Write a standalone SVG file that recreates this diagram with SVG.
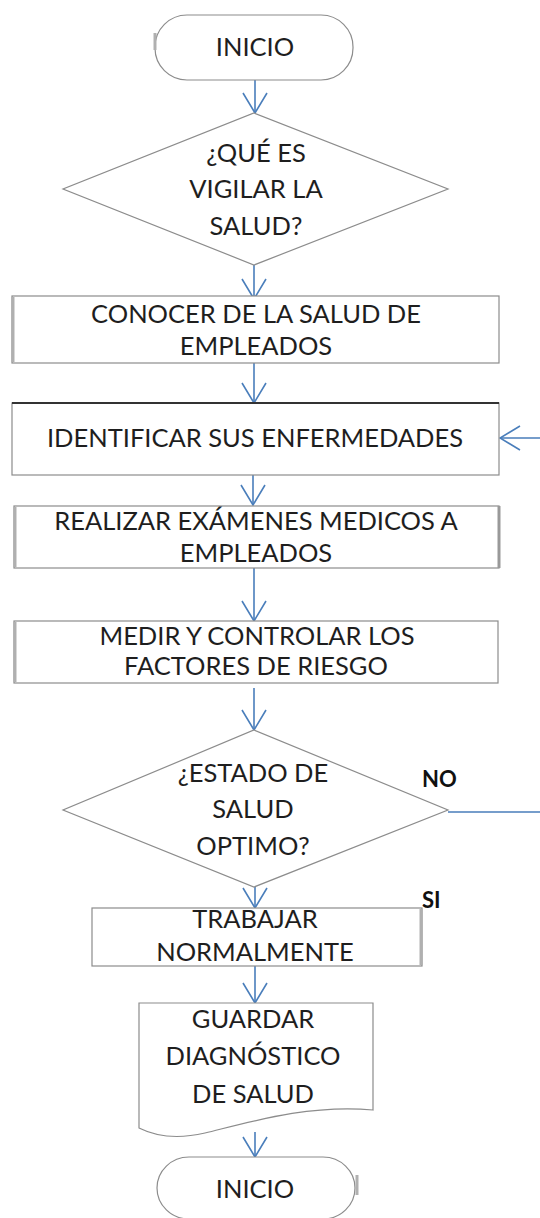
<svg xmlns="http://www.w3.org/2000/svg" width="540" height="1218" viewBox="0 0 540 1218">
<style>
.shape{fill:#ffffff;stroke:#8c8c8c;stroke-width:1.2}
.edge{stroke:#b0b0b0;stroke-width:3}
.txt{font-family:Lato,"Liberation Sans",sans-serif;font-size:25.5px;fill:#1e1e1e;text-anchor:middle}
.lbl{font-family:Lato,"Liberation Sans",sans-serif;font-size:22px;fill:#111;font-weight:bold}
.conn{fill:none;stroke:#4a7ebb;stroke-width:1.6}
</style>
<defs>
<marker id="arr" viewBox="0 0 22 26" refX="21" refY="13" markerWidth="22" markerHeight="26" markerUnits="userSpaceOnUse" orient="auto">
<path d="M1,1 L21,13 L1,25" fill="none" stroke="#4a7ebb" stroke-width="1.6"/>
</marker>
</defs>
<rect width="540" height="1218" fill="#ffffff"/>
<g id="connectors">
<line class="conn" x1="255" y1="80" x2="255" y2="113" marker-end="url(#arr)"/>
<line class="conn" x1="254" y1="265" x2="254" y2="299" marker-end="url(#arr)"/>
<line class="conn" x1="254" y1="363" x2="254" y2="403" marker-end="url(#arr)"/>
<line class="conn" x1="253" y1="475" x2="253" y2="505" marker-end="url(#arr)"/>
<line class="conn" x1="254" y1="568" x2="254" y2="621" marker-end="url(#arr)"/>
<line class="conn" x1="254" y1="688" x2="254" y2="730" marker-end="url(#arr)"/>
<line class="conn" x1="255" y1="887" x2="255" y2="908" marker-end="url(#arr)"/>
<line class="conn" x1="255" y1="966" x2="255" y2="1003" marker-end="url(#arr)"/>
<line class="conn" x1="255" y1="1132" x2="255" y2="1157" marker-end="url(#arr)"/>
<path class="conn" d="M448,812 H548 V438 H500" marker-end="url(#arr)"/>
</g>
<g id="start">
<rect class="shape" x="155" y="15" width="198" height="65" rx="32" ry="32"/>
<line class="edge" x1="155" y1="33" x2="155" y2="50"/>
<text class="txt" x="255" y="56">INICIO</text>
</g>
<g id="decision1">
<polygon class="shape" points="254,113 448,189 254,265 63,189"/>
<text class="txt" x="256" y="162">¿QUÉ ES</text>
<text class="txt" x="256" y="198">VIGILAR LA</text>
<text class="txt" x="256" y="235">SALUD?</text>
</g>
<g id="step1">
<rect class="shape" x="12" y="296" width="487" height="67"/>
<line class="edge" x1="13" y1="297" x2="13" y2="362"/>
<text class="txt" x="256" y="323">CONOCER DE LA SALUD DE</text>
<text class="txt" x="256" y="355">EMPLEADOS</text>
</g>
<g id="step2">
<rect class="shape" x="12" y="403" width="487" height="72"/>
<line x1="12" y1="403" x2="499" y2="403" stroke="#333" stroke-width="2"/>
<text class="txt" x="255" y="447">IDENTIFICAR SUS ENFERMEDADES</text>
</g>
<g id="step3">
<rect class="shape" x="14" y="506" width="485" height="62"/>
<line class="edge" x1="15" y1="507" x2="15" y2="567"/>
<line x1="499" y1="506" x2="499" y2="568" stroke="#999" stroke-width="3"/>
<text class="txt" x="256" y="530">REALIZAR EXÁMENES MEDICOS A</text>
<text class="txt" x="256" y="562">EMPLEADOS</text>
</g>
<g id="step4">
<rect class="shape" x="14" y="621" width="484" height="62"/>
<line class="edge" x1="15" y1="622" x2="15" y2="682"/>
<text class="txt" x="257" y="645">MEDIR Y CONTROLAR LOS</text>
<text class="txt" x="256" y="675">FACTORES DE RIESGO</text>
</g>
<g id="decision2">
<polygon class="shape" points="254,730 448,810 254,887 63,810"/>
<text class="txt" x="253" y="782">¿ESTADO DE</text>
<text class="txt" x="253" y="818">SALUD</text>
<text class="txt" x="253" y="855">OPTIMO?</text>
</g>
<g id="labels">
<text class="lbl" x="422" y="787">NO</text>
<text class="lbl" x="422" y="908">SI</text>
</g>
<g id="step5">
<rect class="shape" x="92" y="908" width="330" height="58"/>
<line class="edge" x1="421" y1="909" x2="421" y2="965"/>
<text class="txt" x="255" y="928">TRABAJAR</text>
<text class="txt" x="255" y="961">NORMALMENTE</text>
</g>
<g id="document">
<path class="shape" d="M139,1003 H373 V1110 C310,1104 250,1122 205,1133 C175,1140 155,1136 139,1128 Z"/>
<text class="txt" x="253" y="1028">GUARDAR</text>
<text class="txt" x="253" y="1065">DIAGNÓSTICO</text>
<text class="txt" x="253" y="1103">DE SALUD</text>
</g>
<g id="end">
<rect class="shape" x="157" y="1157" width="198" height="62" rx="32" ry="32"/>
<line class="edge" x1="357" y1="1175" x2="357" y2="1195"/>
<text class="txt" x="255" y="1198">INICIO</text>
</g>
</svg>
